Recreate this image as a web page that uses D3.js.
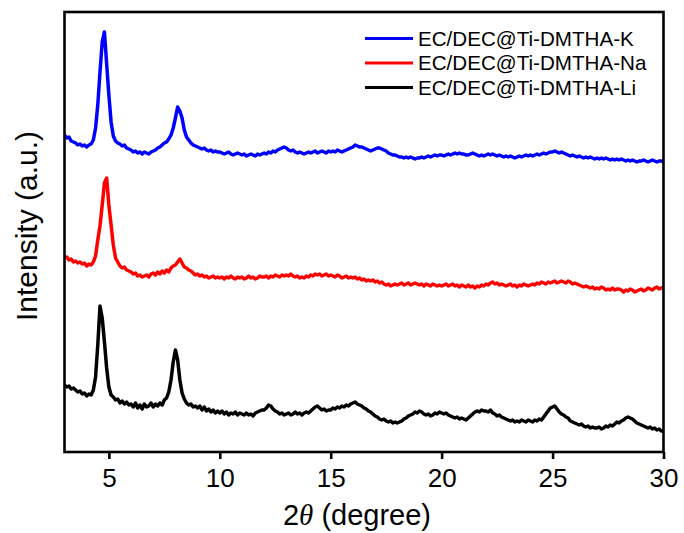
<!DOCTYPE html>
<html>
<head>
<meta charset="utf-8">
<script src="https://cdn.jsdelivr.net/npm/d3@7"></script>
<style>
  html, body { margin: 0; padding: 0; background: #fff; }
  svg { display: block; font-family: Arial, "Liberation Sans", sans-serif; }
</style>
</head>
<body>
<svg id="chart" width="684" height="533"></svg>
<script>
// XRD patterns, 2θ from 3° to 30° in 0.1° steps (stacked, arbitrary units)
const thetaStart = 3.0;
const thetaStep = 0.1;

const seriesNames = ["EC/DEC@Ti-DMTHA-K", "EC/DEC@Ti-DMTHA-Na", "EC/DEC@Ti-DMTHA-Li"];
const seriesColors = ["#0000ff", "#ff0000", "#000000"];

const intensityK = [
  317,314,315,311,310,309,307,308,306,307,
  305,307,308,312,324,347,380,410,420,388,
  357,330,316,311,309,308,306,307,304,303,
  302,300,301,299,300,298,300,299,298,300,
  301,302,304,305,307,309,310,313,317,324,
  334,345,341,334,322,315,312,309,307,306,
  305,304,303,304,302,301,302,300,301,300,
  300,299,298,299,300,298,297,298,299,298,
  297,298,296,297,298,297,296,298,297,298,
  299,298,300,299,301,300,302,303,304,305,
  304,302,301,302,300,299,300,299,298,299,
  300,299,300,301,299,300,301,300,299,301,
  300,301,300,302,301,300,301,302,303,304,
  305,307,306,305,305,304,303,302,301,302,
  303,304,304,303,302,301,299,298,297,297,
  296,295,295,294,295,294,295,294,293,294,
  294,295,294,295,296,295,296,297,296,297,
  297,296,297,298,297,298,299,298,299,298,
  298,297,297,298,299,298,297,296,297,296,
  297,298,297,298,297,296,297,296,295,296,
  295,296,295,294,295,296,295,296,297,296,
  297,296,297,298,297,298,299,298,299,300,
  300,301,300,299,300,299,298,297,296,297,
  296,295,296,295,294,295,294,295,294,293,
  294,293,294,293,294,293,292,293,292,293,
  292,293,292,291,292,291,292,291,290,291,
  291,292,291,290,291,292,291,290,291,291,
  290
];

const intensityNa = [
  194,195,192,193,190,191,189,190,188,189,
  186,188,187,190,196,212,226,247,269,274,
  247,227,207,194,190,186,184,185,182,181,
  180,178,179,176,177,175,176,177,175,178,
  179,177,180,178,181,179,182,180,184,186,
  187,190,193,189,185,184,182,181,179,177,
  178,176,177,175,176,174,175,176,174,175,
  174,175,173,175,174,176,174,173,175,174,
  175,173,174,176,174,175,173,174,176,175,
  175,176,174,176,175,177,176,175,177,176,
  177,176,178,176,175,176,174,175,174,176,
  175,177,176,178,177,178,176,177,178,176,
  177,176,175,177,176,174,175,176,174,175,
  174,175,173,174,172,173,171,172,171,172,
  170,171,169,170,168,167,168,166,167,168,
  167,168,169,167,168,169,167,168,169,168,
  167,168,166,168,167,166,168,167,166,167,
  166,167,168,166,167,168,166,167,165,167,
  166,165,167,165,166,164,166,165,167,166,
  168,167,169,170,168,169,167,168,167,166,
  167,168,166,167,165,167,166,168,167,166,
  167,168,167,169,168,170,169,168,170,169,
  170,171,169,170,171,170,169,171,170,168,
  169,168,167,166,165,166,165,164,165,163,
  164,163,165,164,162,163,162,164,162,163,
  163,162,160,162,161,163,162,160,161,162,
  163,161,162,164,163,162,164,165,163,164,
  165
];

const intensityLi = [
  67,65,66,63,64,62,60,61,58,59,
  56,58,57,62,75,107,146,134,110,84,
  65,57,55,52,53,49,51,48,50,47,
  48,45,49,44,47,43,48,45,46,49,
  45,48,46,49,47,52,54,60,72,90,
  102,92,72,59,53,49,47,48,45,46,
  44,46,42,45,41,43,40,42,39,41,
  39,41,38,40,37,39,38,40,37,39,
  38,37,39,37,38,36,39,40,41,42,
  42,44,47,46,43,41,40,38,39,37,
  38,39,37,38,40,38,39,37,39,40,
  39,41,43,45,46,44,42,43,41,42,
  42,44,43,45,44,46,45,47,46,48,
  49,50,48,47,46,44,43,41,40,38,
  36,35,33,32,33,31,30,31,29,30,
  29,30,31,33,34,36,37,38,40,39,
  41,40,38,37,38,36,37,39,38,40,
  39,38,39,37,36,35,34,35,33,34,
  33,32,34,36,38,40,41,40,42,41,
  41,40,42,39,38,36,37,35,34,33,
  32,31,32,30,31,30,32,31,30,32,
  31,30,32,31,33,32,35,38,41,44,
  45,46,43,40,38,37,35,34,31,30,
  29,28,27,28,26,25,26,24,25,24,
  24,25,23,24,26,25,27,26,28,30,
  29,31,32,34,35,34,33,31,29,28,
  27,26,25,24,25,23,24,22,23,21,
  21
];

const xTicks = [5, 10, 15, 20, 25, 30];

const allSeries = [intensityK, intensityNa, intensityLi];

const svg = d3.select("#chart");
const margin = { left: 64.5, right: 684 - 663.5, top: 12, bottom: 533 - 452 };
const W = 684 - margin.left - margin.right;
const H = 533 - margin.top - margin.bottom;

const x = d3.scaleLinear().domain([3, 30]).range([margin.left, margin.left + W]);
const y = d3.scaleLinear().domain([0, 440]).range([margin.top + H, margin.top]);

const line = d3.line()
  .x(d => x(d[0]))
  .y(d => y(d[1]))
  .curve(d3.curveLinear);

// pattern curves
const plot = svg.append("g");
allSeries.forEach((vals, i) => {
  const pts = vals.map((v, k) => [thetaStart + k * thetaStep, v]);
  plot.append("path")
    .datum(pts)
    .attr("fill", "none")
    .attr("stroke", seriesColors[i])
    .attr("stroke-width", 3.5)
    .attr("stroke-linejoin", "round")
    .attr("d", line);
});

// frame
svg.append("rect")
  .attr("x", margin.left).attr("y", margin.top)
  .attr("width", W).attr("height", H)
  .attr("fill", "none").attr("stroke", "#000").attr("stroke-width", 2.6);

// bottom axis
const xAxis = svg.append("g")
  .attr("transform", `translate(0,${margin.top + H})`)
  .call(d3.axisBottom(x).tickValues(xTicks).tickSize(7).tickSizeOuter(0).tickPadding(10));
xAxis.select(".domain").remove();
xAxis.selectAll(".tick line").attr("stroke", "#000").attr("stroke-width", 2.6);
xAxis.selectAll(".tick text")
  .attr("fill", "#000")
  .style("font-size", "26px")
  .style("font-family", "Arial, 'Liberation Sans', sans-serif");

// axis titles
const xTitle = svg.append("text")
  .attr("x", 357)
  .attr("y", 525)
  .attr("text-anchor", "middle")
  .style("font-size", "29px");
xTitle.append("tspan").text("2");
xTitle.append("tspan").style("font-style", "italic").style("font-family", "'Liberation Serif', 'Times New Roman', serif").text("θ");
xTitle.append("tspan").text(" (degree)");

svg.append("text")
  .attr("transform", "translate(36.5,226) rotate(-90)")
  .attr("text-anchor", "middle")
  .style("font-size", "30px")
  .text("Intensity (a.u.)");

// legend
const legend = svg.append("g");
const legendY = [38.5, 63, 87.5];
seriesNames.forEach((name, i) => {
  legend.append("line")
    .attr("x1", 365).attr("x2", 413)
    .attr("y1", legendY[i]).attr("y2", legendY[i])
    .attr("stroke", seriesColors[i]).attr("stroke-width", 3);
  legend.append("text")
    .attr("x", 418).attr("y", legendY[i])
    .attr("dy", "0.35em")
    .style("font-size", "20.6px")
    .text(name);
});
</script>
</body>
</html>
